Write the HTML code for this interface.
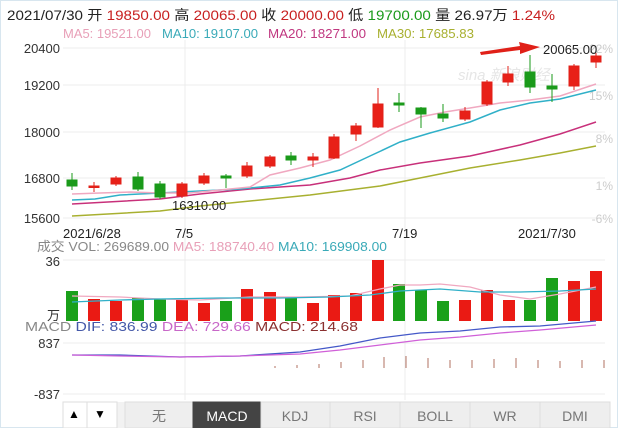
<!DOCTYPE html><html><head><meta charset="utf-8"><style>
body{margin:0;background:#fff;width:618px;height:428px;overflow:hidden;font-family:"Liberation Sans","Noto Sans CJK SC",sans-serif}
svg{display:block}
</style></head><body>
<svg width="618" height="428" xmlns="http://www.w3.org/2000/svg" font-family="Liberation Sans, Noto Sans CJK SC, sans-serif">
<rect x="0.5" y="0.5" width="617" height="427" fill="#fff" stroke="#d8e6ef"/>
<text x="7" y="20" font-size="14" fill="#222" textLength="548" lengthAdjust="spacingAndGlyphs">2021/07/30 开 <tspan fill="#c82020">19850.00</tspan> 高 <tspan fill="#c82020">20065.00</tspan> 收 <tspan fill="#c82020">20000.00</tspan> 低 <tspan fill="#1a9a1a">19700.00</tspan> 量 26.97万 <tspan fill="#c82020">1.24%</tspan></text>
<g font-size="13"><text x="63" y="38" fill="#e8a0b8" textLength="88" lengthAdjust="spacingAndGlyphs">MA5: 19521.00</text><text x="162" y="38" fill="#3aaab8" textLength="96" lengthAdjust="spacingAndGlyphs">MA10: 19107.00</text><text x="268" y="38" fill="#c03880" textLength="98" lengthAdjust="spacingAndGlyphs">MA20: 18271.00</text><text x="377" y="38" fill="#a8b030" textLength="97" lengthAdjust="spacingAndGlyphs">MA30: 17685.83</text></g>
<!-- grid -->
<g stroke="#ececec" stroke-width="1">
<line x1="63" y1="48" x2="605" y2="48"/><line x1="63" y1="85" x2="605" y2="85"/><line x1="63" y1="132" x2="605" y2="132"/><line x1="63" y1="178" x2="605" y2="178"/><line x1="63" y1="218" x2="605" y2="218"/>
<line x1="185" y1="40" x2="185" y2="400"/><line x1="405" y1="40" x2="405" y2="400"/>
<line x1="63" y1="260" x2="605" y2="260"/><line x1="63" y1="343" x2="605" y2="343"/><line x1="63" y1="394" x2="605" y2="394"/>
</g>
<g font-size="13" fill="#333" text-anchor="end"><text x="60" y="53">20400</text><text x="60" y="90">19200</text><text x="60" y="137">18000</text><text x="60" y="183">16800</text><text x="60" y="223">15600</text></g>
<g font-size="12" fill="#ccc" text-anchor="end"><text x="613" y="53">22%</text><text x="613" y="100">15%</text><text x="613" y="143">8%</text><text x="613" y="190">1%</text><text x="613" y="223">-6%</text></g>
<text x="458" y="80" font-size="15" fill="#e6e6e6" font-style="italic">sina 新浪财经</text>
<!-- MA lines -->
<polyline fill="none" stroke="#a8b030" stroke-width="1.5" points="72,216 160,211 200,206 250,201 310,195 380,186 420,178 470,168 520,160 560,153 596,146"/>
<polyline fill="none" stroke="#c8307a" stroke-width="1.5" points="72,204 160,199 200,194 250,189 310,185 350,178 380,170 420,163 470,156 520,145 560,134 596,122"/>
<polyline fill="none" stroke="#30b0c8" stroke-width="1.5" points="72,200 95,199 120,195 160,193 200,191 240,189 280,185 310,178 340,170 370,156 400,142 430,133 470,122 500,110 530,103 560,99 596,90"/>
<polyline fill="none" stroke="#f0a8c0" stroke-width="1.5" points="72,194 100,193 130,192 160,193 190,193 220,190 250,187 270,175 300,168 330,160 360,146 390,130 420,117 445,112 470,108 500,103 530,100 560,96 596,84"/>
<!-- candles -->
<g stroke-width="1">
<g stroke="#1a9a1a" fill="#1a9a1a">
<line x1="72" y1="173" x2="72" y2="190"/><rect x="67" y="180" width="10" height="6"/>
<line x1="138" y1="172" x2="138" y2="191"/><rect x="133" y="177" width="10" height="12"/>
<line x1="160" y1="181" x2="160" y2="199"/><rect x="155" y="184" width="10" height="13"/>
<line x1="226" y1="174" x2="226" y2="188"/><rect x="221" y="176" width="10" height="2"/>
<line x1="291" y1="152" x2="291" y2="165"/><rect x="286" y="156" width="10" height="4"/>
<line x1="399" y1="93" x2="399" y2="112"/><rect x="394" y="103" width="10" height="2"/>
<line x1="421" y1="107" x2="421" y2="128"/><rect x="416" y="108" width="10" height="6"/>
<line x1="443" y1="104" x2="443" y2="122"/><rect x="438" y="114" width="10" height="4"/>
<line x1="530" y1="55" x2="530" y2="93"/><rect x="525" y="72" width="10" height="15"/>
<line x1="552" y1="74" x2="552" y2="102"/><rect x="547" y="86" width="10" height="3"/>
</g>
<g stroke="#e02018" fill="#e82018">
<line x1="94" y1="182" x2="94" y2="192"/><rect x="89" y="186" width="10" height="1.5"/>
<line x1="116" y1="176" x2="116" y2="186"/><rect x="111" y="178" width="10" height="6"/>
<line x1="182" y1="182" x2="182" y2="198"/><rect x="177" y="184" width="10" height="12"/>
<line x1="204" y1="173" x2="204" y2="185"/><rect x="199" y="176" width="10" height="7"/>
<line x1="247" y1="162" x2="247" y2="178"/><rect x="242" y="166" width="10" height="10"/>
<line x1="270" y1="155" x2="270" y2="168"/><rect x="265" y="157" width="10" height="9"/>
<line x1="313" y1="153" x2="313" y2="167"/><rect x="308" y="157" width="10" height="3"/>
<line x1="334" y1="134" x2="334" y2="159"/><rect x="329" y="137" width="10" height="21"/>
<line x1="356" y1="123" x2="356" y2="141"/><rect x="351" y="126" width="10" height="8"/>
<line x1="378" y1="88" x2="378" y2="128"/><rect x="373" y="104" width="10" height="23"/>
<line x1="465" y1="107" x2="465" y2="121"/><rect x="460" y="111" width="10" height="8"/>
<line x1="487" y1="80" x2="487" y2="106"/><rect x="482" y="82" width="10" height="22"/>
<line x1="508" y1="66" x2="508" y2="86"/><rect x="503" y="74" width="10" height="8"/>
<line x1="574" y1="64" x2="574" y2="90"/><rect x="569" y="66" width="10" height="20"/>
<line x1="596" y1="53" x2="596" y2="68"/><rect x="591" y="56" width="10" height="6"/>
</g></g>
<!-- annotations -->
<polygon points="480,52 520,46 519,42 540,47 520,54 520,50 481,55" fill="#e02018"/>
<text x="543" y="54" font-size="13" fill="#222">20065.00</text>
<text x="172" y="210" font-size="13" fill="#222">16310.00</text>
<g font-size="13" fill="#222"><text x="63" y="238">2021/6/28</text><text x="175" y="238">7/5</text><text x="392" y="238">7/19</text><text x="518" y="238">2021/7/30</text></g>
<text x="37" y="251" font-size="13" fill="#888" textLength="350" lengthAdjust="spacingAndGlyphs">成交 <tspan fill="#888">VOL: 269689.00</tspan> <tspan fill="#e8a0b8">MA5: 188740.40</tspan> <tspan fill="#3aaab8">MA10: 169908.00</tspan></text>
<g font-size="13" fill="#333" text-anchor="end"><text x="60" y="266">36</text><text x="60" y="320">万</text></g>
<!-- volume -->
<g fill="#1aa01a">
<rect x="66" y="291" width="12" height="30"/><rect x="132" y="298" width="12" height="23"/><rect x="154" y="299" width="12" height="22"/><rect x="220" y="301" width="12" height="20"/><rect x="285" y="297" width="12" height="24"/><rect x="393" y="284" width="12" height="37"/><rect x="415" y="290" width="12" height="31"/><rect x="437" y="301" width="12" height="20"/><rect x="524" y="300" width="12" height="21"/><rect x="546" y="278" width="12" height="43"/>
</g>
<g fill="#ea1a14">
<rect x="88" y="299" width="12" height="22"/><rect x="110" y="301" width="12" height="20"/><rect x="176" y="300" width="12" height="21"/><rect x="198" y="303" width="12" height="18"/><rect x="241" y="289" width="12" height="32"/><rect x="264" y="292" width="12" height="29"/><rect x="307" y="303" width="12" height="18"/><rect x="328" y="295" width="12" height="26"/><rect x="350" y="293" width="12" height="28"/><rect x="372" y="260" width="12" height="61"/><rect x="459" y="300" width="12" height="21"/><rect x="481" y="290" width="12" height="31"/><rect x="503" y="300" width="12" height="21"/><rect x="568" y="281" width="12" height="40"/><rect x="590" y="271" width="12" height="50"/>
</g>
<polyline fill="none" stroke="#f0a8c0" stroke-width="1.3" points="72,296 120,297 160,299 200,300 250,297 300,297 350,296 380,289 400,285 420,285 440,284 470,287 500,295 530,299 560,294 596,287"/>
<polyline fill="none" stroke="#30b0c8" stroke-width="1.3" points="72,302 120,300 160,299 220,298 280,298 330,297 370,295 400,291 440,289 480,292 520,292 560,291 596,289"/>
<text x="25" y="331" font-size="13" fill="#888" textLength="333" lengthAdjust="spacingAndGlyphs">MACD <tspan fill="#4458a8">DIF: 836.99</tspan>   <tspan fill="#c868c8">DEA: 729.66</tspan>   <tspan fill="#8a3030">MACD: 214.68</tspan></text>
<g font-size="13" fill="#333" text-anchor="end"><text x="60" y="348">837</text><text x="60" y="399">-837</text></g>
<polyline fill="none" stroke="#4458c8" stroke-width="1.3" points="72,355 120,355 180,357 240,356 300,352 340,346 380,338 420,333 460,331 500,327 540,326 596,321"/>
<polyline fill="none" stroke="#d060d8" stroke-width="1.3" points="72,355 120,356 180,357 240,356 300,354 340,350 380,345 420,340 460,337 500,333 540,330 596,325"/>
<g stroke="#b07060" stroke-width="1">
<line x1="341" y1="362" x2="341" y2="368"/><line x1="363" y1="360" x2="363" y2="368"/><line x1="384" y1="357" x2="384" y2="368"/><line x1="406" y1="356" x2="406" y2="368"/><line x1="428" y1="358" x2="428" y2="368"/><line x1="450" y1="360" x2="450" y2="368"/><line x1="472" y1="360" x2="472" y2="368"/><line x1="494" y1="359" x2="494" y2="368"/><line x1="516" y1="358" x2="516" y2="368"/><line x1="538" y1="360" x2="538" y2="368"/><line x1="560" y1="361" x2="560" y2="368"/><line x1="582" y1="360" x2="582" y2="368"/><line x1="604" y1="360" x2="604" y2="368"/>
<line x1="275" y1="366" x2="275" y2="368"/><line x1="297" y1="365" x2="297" y2="368"/><line x1="319" y1="364" x2="319" y2="368"/>
</g>
<!-- tabs -->
<rect x="63" y="402" width="547" height="26" fill="#f2f2f2"/>
<rect x="63" y="402" width="54" height="26" fill="#fff" stroke="#ddd"/>
<line x1="87" y1="402" x2="87" y2="428" stroke="#ddd"/>
<text x="68" y="418" font-size="12">▲</text><text x="94" y="418" font-size="12">▼</text>
<g stroke="#ddd" fill="#eee">
<rect x="125" y="402" width="68" height="26"/><rect x="193" y="402" width="68" height="26" fill="#444" stroke="#444"/><rect x="261" y="402" width="69" height="26"/><rect x="330" y="402" width="70" height="26"/><rect x="400" y="402" width="70" height="26"/><rect x="470" y="402" width="70" height="26"/><rect x="540" y="402" width="70" height="26"/>
</g>
<g font-size="14" fill="#777" text-anchor="middle"><text x="159" y="421">无</text><text x="227" y="421" fill="#fff">MACD</text><text x="295" y="421">KDJ</text><text x="365" y="421">RSI</text><text x="435" y="421">BOLL</text><text x="505" y="421">WR</text><text x="575" y="421">DMI</text></g>
</svg>
</body></html>
